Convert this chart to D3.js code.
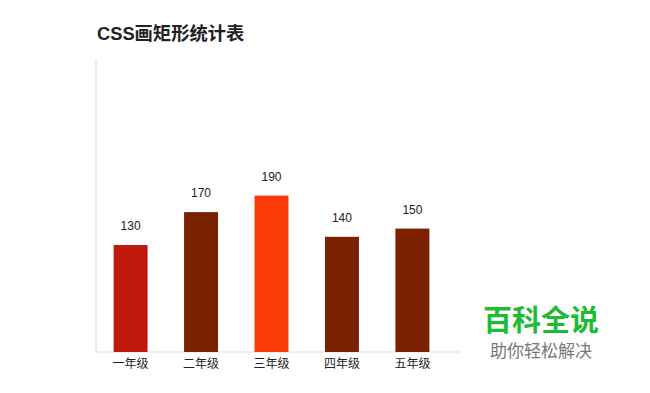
<html><head>
<script src="https://d3js.org/d3.v7.min.js"></script>
<style>
  body { margin: 0; background: #fff; }
</style>
</head>
<body>
<svg id="chart" width="650" height="393"></svg>
<script>
const grades = ["一年级", "二年级", "三年级", "四年级", "五年级"];
const counts = [130, 170, 190, 140, 150];
const barColors = ["#c0180a", "#7a2100", "#fb3a05", "#7a2100", "#7a2100"];

const svg = d3.select("svg#chart");
const font = "'Liberation Sans', 'Noto Sans CJK SC', sans-serif";
const x0 = 96, y0 = 352;

const x = d3.scaleBand().domain(grades).range([96, 447]).paddingInner(0.518).paddingOuter(0.25);
const y = d3.scaleLinear().domain([0, 350]).range([y0, 64]);

svg.append("text")
  .attr("x", 97).attr("y", 40)
  .attr("font-family", font).attr("font-size", 18.3).attr("font-weight", "bold")
  .attr("fill", "#222")
  .text("CSS画矩形统计表");

// axes lines
svg.append("line").attr("x1", x0).attr("x2", x0).attr("y1", 60).attr("y2", y0)
  .attr("stroke", "#ddd").attr("stroke-width", 1);
svg.append("line").attr("x1", x0).attr("x2", 461).attr("y1", y0).attr("y2", y0)
  .attr("stroke", "#ddd").attr("stroke-width", 1);

svg.selectAll("rect.bar").data(counts)
  .join("rect")
  .attr("class", "bar")
  .attr("x", (d, i) => x(grades[i]))
  .attr("y", d => y(d))
  .attr("width", x.bandwidth())
  .attr("height", d => y0 - y(d))
  .attr("fill", (d, i) => barColors[i]);

svg.selectAll("text.val").data(counts)
  .join("text")
  .attr("class", "val")
  .attr("x", (d, i) => x(grades[i]) + x.bandwidth() / 2)
  .attr("y", d => y(d) - 15)
  .attr("text-anchor", "middle")
  .attr("font-family", font).attr("font-size", 12)
  .attr("fill", "#222")
  .text(d => d);

svg.selectAll("text.cat").data(grades)
  .join("text")
  .attr("class", "cat")
  .attr("x", d => x(d) + x.bandwidth() / 2)
  .attr("y", 368)
  .attr("text-anchor", "middle")
  .attr("font-family", font).attr("font-size", 12)
  .attr("fill", "#222")
  .text(d => d);

// watermark
svg.append("text")
  .attr("x", 541).attr("y", 331)
  .attr("text-anchor", "middle")
  .attr("font-family", font).attr("font-size", 29).attr("font-weight", "bold")
  .attr("fill", "#1fbb35")
  .text("百科全说");
svg.append("text")
  .attr("x", 541).attr("y", 357)
  .attr("text-anchor", "middle")
  .attr("font-family", font).attr("font-size", 17)
  .attr("fill", "#777")
  .text("助你轻松解决");
</script>
</body>
</html>
